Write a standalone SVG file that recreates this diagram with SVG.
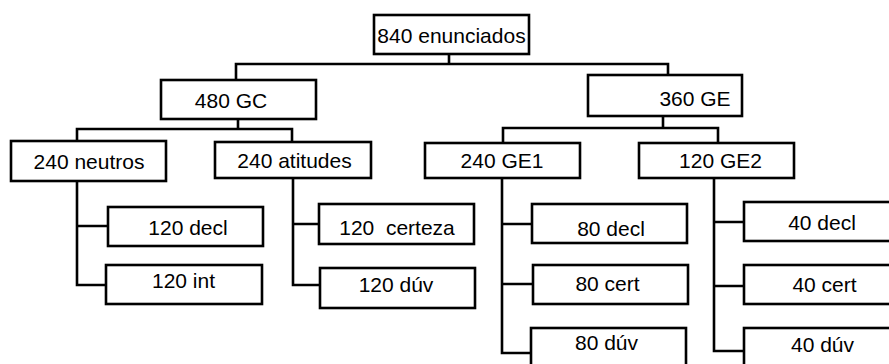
<svg xmlns="http://www.w3.org/2000/svg" width="889" height="364" viewBox="0 0 889 364">
<style>
rect{fill:#fff;stroke:#000;stroke-width:2.6}
text{font-family:"Liberation Sans",Arial,sans-serif;font-size:21px;fill:#000;text-anchor:middle}
#connectors path{fill:none;stroke:#000;stroke-width:2.6}
</style>
<rect x="0" y="0" width="889" height="364" style="stroke:none"/>
<g id="connectors">
<path d="M449,55V64M236,79V64H668V74"/>
<path d="M238,120V129M77,140V129H292V141"/>
<path d="M663,117V128M503,142V128H718V142"/>
<path d="M77,182V285H106M77,226H108"/>
<path d="M293,179V285H320M293,224H319"/>
<path d="M502,179V353H531M502,224H532M502,284H533"/>
<path d="M714,179V351H744M714,222H744M714,286H744"/>
</g>
<g id="n_root"><rect x="374" y="15" width="155" height="39"/><text x="451.5" y="43">840 enunciados</text></g>
<g id="n_gc"><rect x="161" y="80" width="155" height="39"/><text x="231" y="108">480 GC</text></g>
<g id="n_ge"><rect x="588" y="75" width="154" height="41"/><text x="695" y="105.5">360 GE</text></g>
<g id="n_neutros"><rect x="11" y="141" width="155" height="40"/><text x="89" y="169">240 neutros</text></g>
<g id="n_atitudes"><rect x="215" y="142" width="156" height="36"/><text x="294.5" y="167.5">240 atitudes</text></g>
<g id="n_120decl"><rect x="108" y="207" width="155" height="39"/><text x="188" y="235">120 decl</text></g>
<g id="n_120int"><rect x="106" y="265" width="156" height="39"/><text x="183.5" y="288">120 int</text></g>
<g id="n_120cert"><rect x="319" y="204" width="155" height="40"/><text x="397" y="235" xml:space="preserve">120  certeza</text></g>
<g id="n_120duv"><rect x="320" y="268" width="155" height="40"/><text x="396" y="292">120 dúv</text></g>
<g id="n_ge1"><rect x="425" y="143" width="155" height="35"/><text x="502" y="168">240 GE1</text></g>
<g id="n_ge2"><rect x="639" y="143" width="155" height="35"/><text x="720.5" y="168">120 GE2</text></g>
<g id="n_80decl"><rect x="532" y="204" width="155" height="39"/><text x="611" y="236">80 decl</text></g>
<g id="n_80cert"><rect x="533" y="265" width="155" height="39"/><text x="607.5" y="291">80 cert</text></g>
<g id="n_80duv"><rect x="531" y="328" width="155" height="45"/><text x="606.5" y="350">80 dúv</text></g>
<g id="n_40decl"><rect x="744" y="202" width="160" height="39"/><text x="822" y="230">40 decl</text></g>
<g id="n_40cert"><rect x="744" y="265" width="160" height="39"/><text x="824.5" y="292">40 cert</text></g>
<g id="n_40duv"><rect x="744" y="328" width="160" height="45"/><text x="822.5" y="352">40 dúv</text></g>
</svg>
